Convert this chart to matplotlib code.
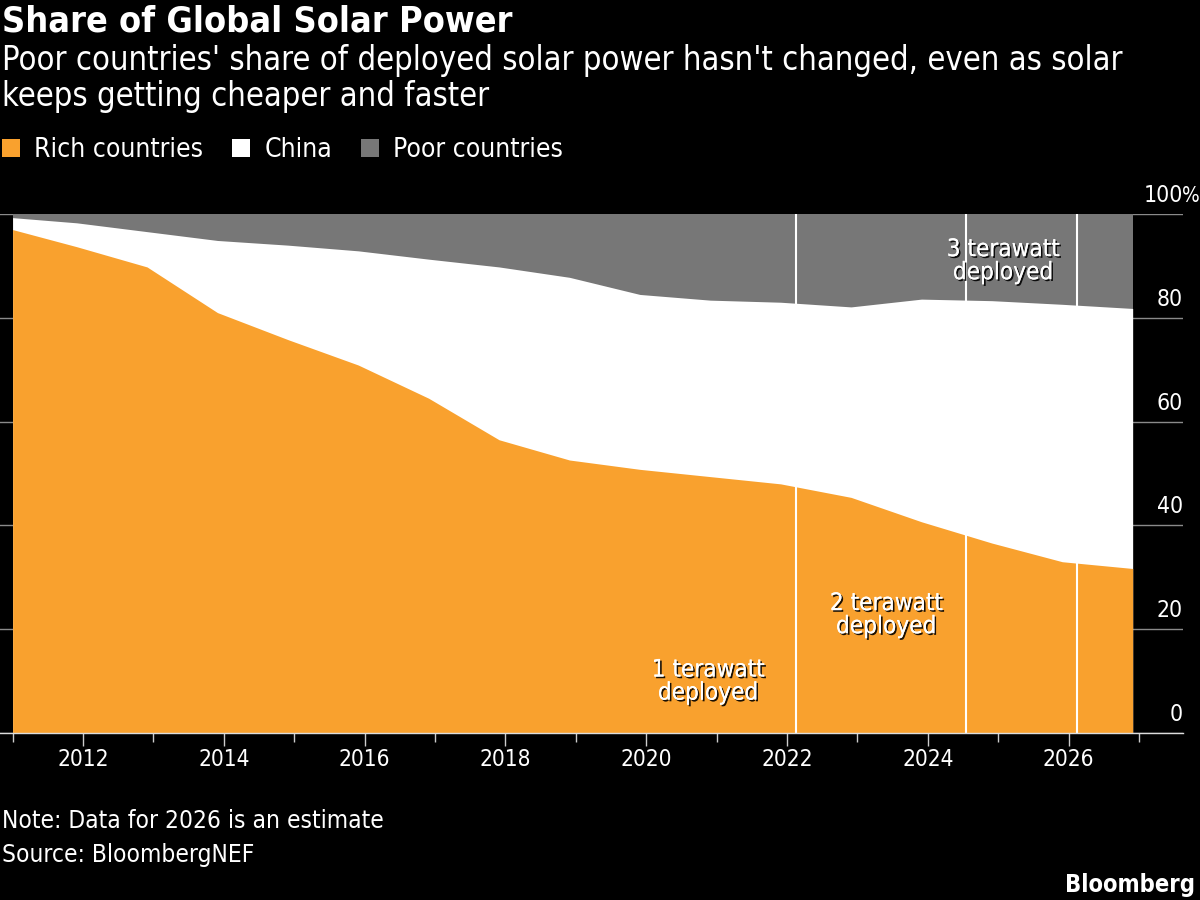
import numpy as np
import matplotlib.pyplot as plt
import matplotlib.patheffects as pe
from matplotlib.patches import Patch

plt.rcParams['font.family'] = 'DejaVu Sans'
plt.rcParams['font.stretch'] = 'condensed'

# -----------------------------
# Data (share of deployed solar, %)
# -----------------------------
dates = [2011.0, 2011.91, 2012.91, 2013.91, 2014.91, 2015.91, 2016.91, 2017.91, 2018.91,
         2019.91, 2020.91, 2021.91, 2022.91, 2023.91, 2024.91, 2025.91, 2026.91]
rich = [97.0, 93.7, 89.8, 81.0, 75.8, 70.9, 64.5, 56.5, 52.6,
        50.8, 49.4, 48.0, 45.4, 40.7, 36.6, 33.0, 31.7]
china = [2.3, 4.6, 6.8, 13.9, 18.2, 22.0, 26.8, 33.3, 35.2,
         33.7, 34.0, 35.0, 36.7, 42.9, 46.7, 49.6, 50.1]
poor = [0.7, 1.7, 3.4, 5.1, 6.0, 7.1, 8.7, 10.2, 12.2,
        15.5, 16.6, 17.0, 17.9, 16.4, 16.7, 17.4, 18.2]

milestones = [2022.13, 2024.54, 2026.12]
milestone_labels = ["1 terawatt\ndeployed", "2 terawatt\ndeployed", "3 terawatt\ndeployed"]
label_pos = [(2020.88, 10.0), (2023.41, 22.8), (2025.07, 91.0)]

series_names = ["Rich countries", "China", "Poor countries"]
colors = ["#f9a12e", "#ffffff", "#777777"]

# -----------------------------
# Figure
# -----------------------------
fig = plt.figure(figsize=(12, 9), dpi=100, facecolor="black")
ax = fig.add_axes([0, 167 / 900, 1183 / 1200, 519 / 900])
ax.set_facecolor("black")

x = np.array(dates)
r = np.array(rich)
c = np.array(china)
p = np.array(poor)

# layered fills, biggest first so there are no seams
ax.fill_between(x, 0, r + c + p, color=colors[2], lw=0, zorder=2)
ax.fill_between(x, 0, r + c, color=colors[1], lw=0, zorder=3)
ax.fill_between(x, 0, r, color=colors[0], lw=0, zorder=4)

for m in milestones:
    ax.axvline(m, color="white", lw=1.5, zorder=5)

shadow = [pe.withSimplePatchShadow(offset=(1.2, -1.2), shadow_rgbFace="black", alpha=0.9), pe.Normal()]
for txt, (lx, ly) in zip(milestone_labels, label_pos):
    ax.text(lx, ly, txt, ha="center", va="center", color="white", fontsize=17.4,
            linespacing=0.95, zorder=6, path_effects=shadow)

ax.set_xlim(2011 - 12.6 / 70.4, 2011 + (1183 - 12.6) / 70.4)
ax.set_ylim(0, 100)

# y grid + labels on the right, above the lines
ax.set_yticks(range(0, 101, 20))
ax.yaxis.set_tick_params(length=0, labelleft=False)
ax.grid(axis="y", color="#8a8a8a", lw=1)
ax.set_axisbelow(True)
for v in range(0, 101, 20):
    ax.text(1.0, v + 2.3, str(v), transform=ax.get_yaxis_transform(),
            ha="right", va="baseline", color="white", fontsize=16.5)
ax.text(0.999, 100 + 2.3, "%", transform=ax.get_yaxis_transform(),
        ha="left", va="baseline", color="white", fontsize=15)

# x ticks
ax.set_xticks(range(2012, 2027, 2))
ax.set_xticks(range(2011, 2028, 2), minor=True)
ax.tick_params(axis="x", which="major", length=9.5, width=1, color="#cccccc",
               labelcolor="white", labelsize=16.3, pad=1.5)
ax.tick_params(axis="x", which="minor", length=6.5, width=1, color="#cccccc")

for s in ["top", "left", "right"]:
    ax.spines[s].set_visible(False)
ax.spines["bottom"].set_color("#dddddd")
ax.spines["bottom"].set_linewidth(1)
ax.spines["bottom"].set_zorder(7)

# -----------------------------
# Titles, legend, notes
# -----------------------------
fig.text(0.002, 1 - 32 / 900, "Share of Global Solar Power", color="white",
         fontsize=25.8, fontweight="bold", va="baseline")
fig.text(0.002, 1 - 70 / 900, "Poor countries' share of deployed solar power hasn't changed, even as solar",
         color="white", fontsize=23.5, va="baseline")
fig.text(0.002, 1 - 106 / 900, "keeps getting cheaper and faster",
         color="white", fontsize=23.5, va="baseline")

handles = [Patch(facecolor=col, edgecolor="none") for col in colors]
fig.legend(handles, series_names, loc="center left", bbox_to_anchor=(0.002, 1 - 150 / 900),
           ncol=3, frameon=False, fontsize=19, labelcolor="white",
           handlelength=0.68, handleheight=0.68, handletextpad=0.53,
           columnspacing=1.1, borderpad=0, borderaxespad=0)

fig.text(0.002, 1 - 828 / 900, "Note: Data for 2026 is an estimate", color="white",
         fontsize=17.6, va="baseline")
fig.text(0.002, 1 - 862 / 900, "Source: BloombergNEF", color="white",
         fontsize=17.6, va="baseline")
fig.text(1195 / 1200, 1 - 892 / 900, "Bloomberg", color="white",
         fontsize=17, fontweight="bold", ha="right", va="baseline")

fig.savefig("out.png", dpi=100, facecolor="black")
